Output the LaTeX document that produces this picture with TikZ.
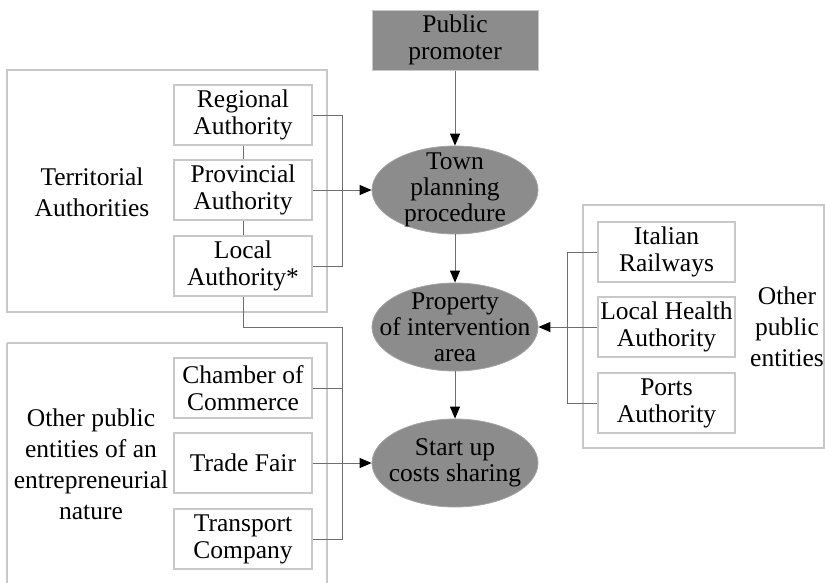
\documentclass[tikz,border=0pt]{standalone}
\usepackage{fontspec}
\setmainfont{Liberation Serif}
\usetikzlibrary{shapes.geometric,arrows.meta}
\definecolor{fillgray}{RGB}{140,140,140}
\definecolor{boxline}{RGB}{200,200,200}
\definecolor{conn}{RGB}{110,110,110}
\begin{document}
\begin{tikzpicture}[x=1pt,y=-1pt,
  every node/.style={font=\fontsize{25.5}{27}\selectfont, align=center, inner sep=0pt},
  inbox/.style={draw=boxline, line width=1.2pt, fill=white, minimum width=138pt, minimum height=60pt},
  rbox/.style={draw=boxline, line width=1.2pt, fill=white, minimum width=137pt, minimum height=60pt},
  oval/.style={ellipse, draw=fillgray!80!white, line width=0.8pt, fill=fillgray, minimum width=166pt, minimum height=88pt},
  ovaltext/.style={font=\fontsize{25.5}{26}\selectfont},
  grp/.style={draw=boxline, line width=1.2pt},
  side/.style={font=\fontsize{25.5}{31}\selectfont},
  conline/.style={draw=conn, line width=1pt},
  arr/.style={conline, -{Triangle[length=12pt,width=10pt,color=black]}}
]
\useasboundingbox (0,0) rectangle (825,582);
% group frames
\draw[grp] (7,70) rectangle (327,312);
\draw[grp] (7,343) -- (7,600) (327,600) -- (327,343) -- (7,343);
\draw[grp] (583,205) rectangle (824,448);
% group labels
\node[side] (terr) at (92,192) {Territorial\\Authorities};
\node[side] (ent) at (91,464) {Other public\\entities of an\\entrepreneurial\\nature};
\node[side] (oth) at (787,327) {Other\\public\\entities};
% central nodes
\node[draw=boxline, line width=1pt, fill=fillgray, minimum width=166pt, minimum height=60pt] (prom) at (455,40) {Public\\promoter};
\node[oval] (town) at (455,190) {};
\node[ovaltext] (towntxt) at (town) {Town\\planning\\procedure};
\node[oval] (prop) at (455,327) {};
\node[ovaltext] (proptxt) at (prop) {Property\\of intervention\\area};
\node[oval] (start) at (455,463) {};
\node[ovaltext] (starttxt) at (start) {Start up\\costs sharing};
% left top boxes
\node[inbox] (reg) at (243,115) {Regional\\Authority};
\node[inbox] (prov) at (243,190) {Provincial\\Authority};
\node[inbox] (loc) at (243,266) {Local\\Authority*};
% left bottom boxes
\node[inbox] (cham) at (243,388) {Chamber of\\Commerce};
\node[inbox] (fair) at (243,463) {Trade Fair};
\node[inbox] (trans) at (243,539) {Transport\\Company};
% right boxes
\node[rbox] (rail) at (666.5,252) {Italian\\Railways};
\node[rbox] (health) at (666.5,327) {Local Health\\Authority};
\node[rbox] (ports) at (666.5,403) {Ports\\Authority};
% junction coordinates
\coordinate (lj) at (342,327);
% connectors
\draw[arr] (prom) -- (town);
\draw[arr] (town) -- (prop);
\draw[arr] (prop) -- (start);
\draw[conline] (reg.east) -- ++(30,0) |- (loc.east);
\draw[conline] (reg.south) -- (prov.north);
\draw[conline] (prov.south) -- (loc.north);
\draw[arr] (prov.east) -- (town.west);
\draw[conline] (loc.south) |- (lj) |- (trans.east);
\draw[conline] (cham.east) -- (cham.east -| lj);
\draw[arr] (fair.east) -- (start.west);
\draw[conline] (rail.west) -- ++(-30,0) |- (ports.west);
\draw[arr] (health.west) -- (prop.east);
\end{tikzpicture}
\end{document}
